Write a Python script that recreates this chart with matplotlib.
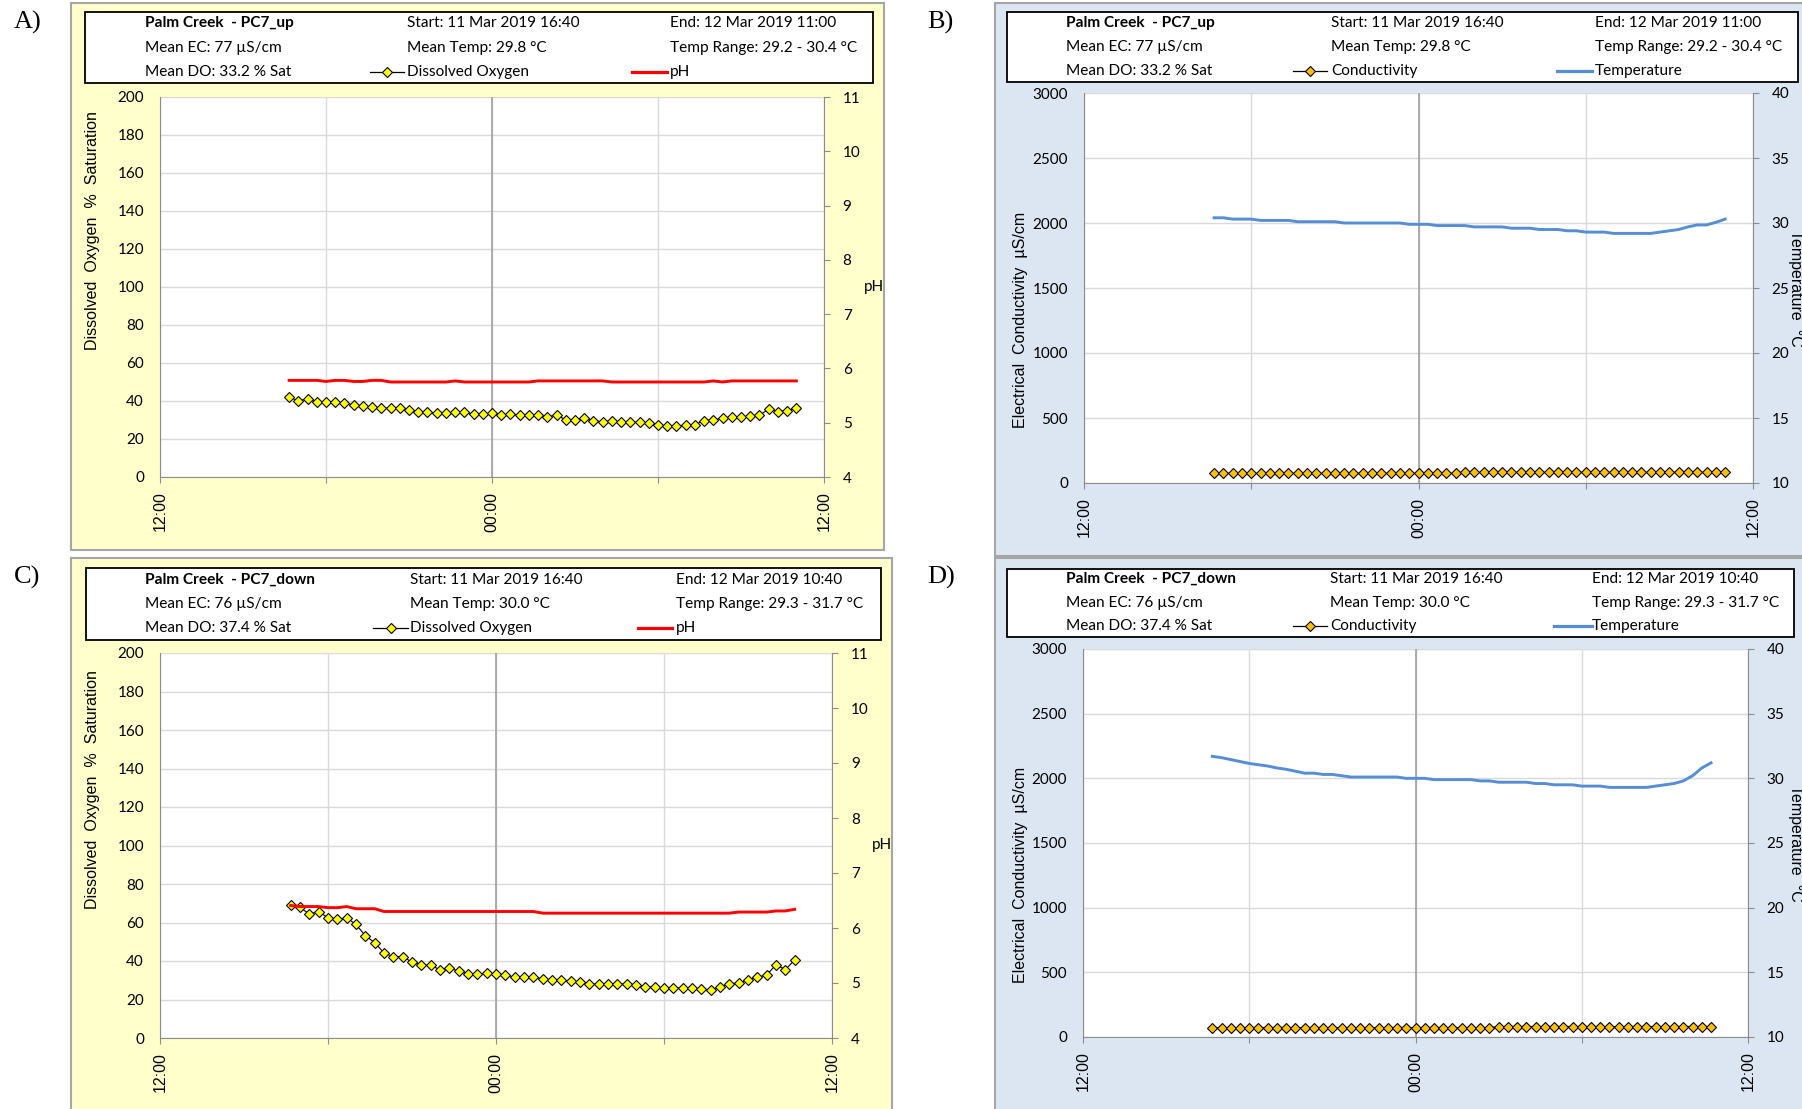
#!/usr/bin/python3
# -*- coding: utf-8 -*-
# Palm Creek PC7 : oxygène dissous / pH et conductivité / température

import matplotlib
matplotlib.use("Agg")
import matplotlib.pyplot as plt
import matplotlib.dates as mdates
from matplotlib.patches import Rectangle
from matplotlib.lines import Line2D
from matplotlib.ticker import FuncFormatter
import pandas as pd

plt.rcParams['font.family'] = ['Lato', 'DejaVu Sans']

W, H = 1802, 1109

# Données (pas de 20 min)
t_up = pd.date_range("2019-03-11 16:40", periods=56, freq="20min")
t_down = pd.date_range("2019-03-11 16:40", periods=55, freq="20min")

do_up = [42, 40.2, 41, 39.5, 39.5, 39.5, 38.8, 38, 37.4, 36.7,
         36.2, 36.2, 36.2, 35.3, 34, 34, 33.6, 33.6, 34, 34.3,
         33, 33, 33.7, 32.5, 33, 32.5, 32.5, 32.5, 31.8, 32.5,
         30.2, 30.2, 30.8, 29.7, 29, 29.7, 29, 28.8, 28.8, 28.3,
         27.6, 26.6, 26.6, 27.4, 27.6, 29.7, 30.2, 30.8, 31.5, 31.5,
         32, 32.5, 35.7, 34.4, 35, 36.2]
ph_up = [5.78, 5.78, 5.78, 5.78, 5.76, 5.78, 5.78, 5.76, 5.76, 5.78,
         5.78, 5.75, 5.75, 5.75, 5.75, 5.75, 5.75, 5.75, 5.77, 5.75,
         5.75, 5.75, 5.75, 5.75, 5.75, 5.75, 5.75, 5.77, 5.77, 5.77,
         5.77, 5.77, 5.77, 5.77, 5.77, 5.75, 5.75, 5.75, 5.75, 5.75,
         5.75, 5.75, 5.75, 5.75, 5.75, 5.75, 5.77, 5.75, 5.77, 5.77,
         5.77, 5.77, 5.77, 5.77, 5.77, 5.77]
ec_up = [74, 74, 74, 74, 74, 74, 74, 74, 74, 74,
         74, 74, 74, 74, 74, 74, 74, 74, 74, 74,
         74, 74, 74, 74, 74, 74, 74, 81, 81, 81,
         81, 81, 81, 81, 81, 81, 81, 81, 81, 81,
         81, 81, 81, 81, 81, 81, 81, 81, 81, 81,
         81, 81, 81, 81, 81, 81]
temp_up = [30.4, 30.4, 30.3, 30.3, 30.3, 30.2, 30.2, 30.2, 30.2, 30.1,
           30.1, 30.1, 30.1, 30.1, 30.0, 30.0, 30.0, 30.0, 30.0, 30.0,
           30.0, 29.9, 29.9, 29.9, 29.8, 29.8, 29.8, 29.8, 29.7, 29.7,
           29.7, 29.7, 29.6, 29.6, 29.6, 29.5, 29.5, 29.5, 29.4, 29.4,
           29.3, 29.3, 29.3, 29.2, 29.2, 29.2, 29.2, 29.2, 29.3, 29.4,
           29.5, 29.7, 29.85, 29.85, 30.05, 30.3]

do_down = [69.3, 67.8, 64.4, 65.7, 62.4, 61.7, 62.4, 59, 53.1, 49.6,
           44.2, 42.3, 42.3, 39.4, 38.1, 37.7, 35.5, 36.4, 34.7, 33.4,
           33.4, 33.6, 33.4, 32.7, 31.6, 31.6, 31.6, 30.8, 30.1, 30.1,
           29.5, 29.3, 28, 28, 28, 28, 28, 27.3, 26.6, 26.6,
           26, 26, 26, 26, 25.4, 25.1, 26.7, 28, 28.8, 30.1,
           31.6, 32.7, 38.1, 35.5, 40.5]
ph_down = [6.41, 6.39, 6.39, 6.39, 6.37, 6.37, 6.39, 6.35, 6.35, 6.35,
           6.30, 6.30, 6.30, 6.30, 6.30, 6.30, 6.30, 6.30, 6.30, 6.30,
           6.30, 6.30, 6.30, 6.30, 6.30, 6.30, 6.30, 6.27, 6.27, 6.27,
           6.27, 6.27, 6.27, 6.27, 6.27, 6.27, 6.27, 6.27, 6.27, 6.27,
           6.27, 6.27, 6.27, 6.27, 6.27, 6.27, 6.27, 6.27, 6.29, 6.29,
           6.29, 6.29, 6.31, 6.31, 6.34]
ec_down = [72, 72, 72, 72, 72, 72, 72, 72, 72, 72,
           72, 72, 72, 72, 72, 72, 72, 72, 72, 72,
           72, 72, 72, 72, 72, 72, 72, 72, 72, 72,
           72, 81, 81, 81, 81, 81, 81, 81, 81, 81,
           81, 81, 81, 81, 81, 81, 81, 81, 81, 81,
           81, 81, 81, 81, 81]
temp_down = [31.7, 31.6, 31.45, 31.3, 31.15, 31.05, 30.95, 30.8, 30.7, 30.55,
             30.4, 30.4, 30.3, 30.3, 30.2, 30.1, 30.1, 30.1, 30.1, 30.1,
             30.1, 30.0, 30.0, 30.0, 29.9, 29.9, 29.9, 29.9, 29.9, 29.8,
             29.8, 29.7, 29.7, 29.7, 29.7, 29.6, 29.6, 29.5, 29.5, 29.5,
             29.4, 29.4, 29.4, 29.3, 29.3, 29.3, 29.3, 29.3, 29.4, 29.5,
             29.6, 29.8, 30.2, 30.8, 31.2]

entete_up = ["Palm Creek  - PC7_up", "Start: 11 Mar 2019 16:40", "End: 12 Mar 2019 11:00",
             "Mean EC: 77 µS/cm", "Mean Temp: 29.8 °C", "Temp Range: 29.2 - 30.4 °C",
             "Mean DO: 33.2 % Sat"]
entete_down = ["Palm Creek  - PC7_down", "Start: 11 Mar 2019 16:40", "End: 12 Mar 2019 10:40",
               "Mean EC: 76 µS/cm", "Mean Temp: 30.0 °C", "Temp Range: 29.3 - 31.7 °C",
               "Mean DO: 37.4 % Sat"]

x_min = pd.Timestamp("2019-03-11 12:00")
x_max = pd.Timestamp("2019-03-12 12:00")
minuit = pd.Timestamp("2019-03-12 00:00")

JAUNE = "#FFFFCC"
BLEU = "#DCE6F2"
GRIS = "#8C8C8C"
TAILLE_ENTETE = 11.1
TAILLE_TICK = 11


def fx(x):
    return x / W


def fy(y):
    return 1 - y / H


def cadre(fig, box, face, edge, lw, z):
    x0, y0, x1, y1 = box
    fig.add_artist(Rectangle((fx(x0), fy(y1)), (x1 - x0) / W, (y1 - y0) / H,
                             transform=fig.transFigure, facecolor=face,
                             edgecolor=edge, linewidth=lw, zorder=z))


def heure(v, pos):
    d = mdates.num2date(v)
    if d.hour in (0, 12):
        return d.strftime("%H:%M")
    return ""


def entete(fig, box, cols, rows, textes, legendes, leg_x, styles):
    cadre(fig, box, "white", "black", 1.3, -1)
    for i, txt in enumerate(textes[:6]):
        fig.text(fx(cols[i % 3]), fy(rows[i // 3]), txt, fontsize=TAILLE_ENTETE,
                 va="center", ha="left",
                 fontweight="bold" if i == 0 else "normal")
    fig.text(fx(cols[0]), fy(rows[2]), textes[6], fontsize=TAILLE_ENTETE, va="center")
    for k in range(2):
        fig.text(fx(cols[k + 1]), fy(rows[2]), legendes[k], fontsize=TAILLE_ENTETE,
                 va="center")
        a, b = leg_x[k]
        ligne = Line2D([fx(a), fx((a + b) / 2), fx(b)], [fy(rows[2])] * 3,
                       transform=fig.transFigure, markevery=[1], **styles[k])
        fig.add_artist(ligne)


def trace(fig, box, t, y_g, y_d, kind):
    x0, y0, x1, y1 = box
    ax = fig.add_axes([fx(x0), fy(y1), (x1 - x0) / W, (y1 - y0) / H])
    ax2 = ax.twinx()
    if kind == "do":
        ax.plot(t, y_g, color="black", lw=0.8, marker="D", ms=5.6,
                mfc="#FFFF00", mec="black", mew=0.8, zorder=3)
        ax2.plot(t, y_d, color="#FF0000", lw=2.1)
        ax.set_ylim(0, 200)
        ax.set_yticks(range(0, 201, 20))
        ax2.set_ylim(4, 11)
        ax2.set_yticks(range(4, 12))
    else:
        ax.plot(t, y_g, color="black", lw=0.8, marker="D", ms=5.6,
                mfc="#FFC000", mec="black", mew=0.8, zorder=3)
        ax2.plot(t, y_d, color="#558ED5", lw=2.1)
        ax.set_ylim(0, 3000)
        ax.set_yticks(range(0, 3001, 500))
        ax2.set_ylim(10, 40)
        ax2.set_yticks(range(10, 41, 5))
    ax.set_xlim(x_min, x_max)
    ax.xaxis.set_major_locator(mdates.HourLocator(byhour=[0, 6, 12, 18]))
    ax.xaxis.set_major_formatter(FuncFormatter(heure))
    ax.set_axisbelow(True)
    ax.grid(True, color="#D9D9D9", lw=1)
    ax.axvline(minuit, color="#A0A0A0", lw=1.2, zorder=0.8)
    for s in ("top", "right"):
        ax.spines[s].set_visible(False)
    for s in ("top", "left", "bottom"):
        ax2.spines[s].set_visible(False)
    ax.spines["left"].set_color(GRIS)
    ax.spines["bottom"].set_color(GRIS)
    ax2.spines["right"].set_color(GRIS)
    ax.tick_params(axis="y", length=0, pad=11.5, labelsize=TAILLE_TICK)
    ax2.tick_params(axis="y", length=4, color=GRIS, pad=9.5, labelsize=TAILLE_TICK)
    ax.tick_params(axis="x", length=4, color=GRIS, pad=6.5, labelsize=11.5,
                   labelrotation=90, labelfontfamily="Liberation Sans")
    return ax, ax2


fig = plt.figure(figsize=(W / 100, H / 100), dpi=100)

style_do = [dict(color="black", lw=0.9, marker="D", ms=5.6, mfc="#FFFF00", mec="black", mew=0.8),
            dict(color="#FF0000", lw=2.3)]
style_ec = [dict(color="black", lw=0.9, marker="D", ms=5.6, mfc="#FFC000", mec="black", mew=0.8),
            dict(color="#558ED5", lw=2.3)]

panneaux = [
    # lettre, fond, couleur, entete, plot, colonnes, lignes, legende x, lettre y
    ("A)", (71, 3, 884, 550), JAUNE, (85, 12, 873, 83), (160, 97, 824, 477),
     (145, 407, 670), (23, 48, 72), ((370, 404), (632, 667)), 22),
    ("B)", (995, 3, 1810, 556), BLEU, (1007, 12, 1798, 82), (1084, 93, 1753, 483),
     (1066, 1331, 1595), (23, 47, 71), ((1293, 1327), (1557, 1592)), 22),
    ("C)", (71, 558, 892, 1115), JAUNE, (86, 568, 881, 640), (160, 653, 832, 1038),
     (145, 410, 676), (580, 604, 628), ((373, 408), (638, 672)), 577),
    ("D)", (995, 558, 1810, 1115), BLEU, (1007, 569, 1794, 637), (1083, 649, 1748, 1037),
     (1066, 1330, 1592), (579, 603, 626), ((1293, 1327), (1554, 1592)), 577),
]

series = [
    (t_up, do_up, ph_up, "do", entete_up),
    (t_up, ec_up, temp_up, "ec", entete_up),
    (t_down, do_down, ph_down, "do", entete_down),
    (t_down, ec_down, temp_down, "ec", entete_down),
]

for (lettre, fond, coul, hbox, pbox, cols, rows, legx, ly), (t, yg, yd, kind, txt) in zip(panneaux, series):
    x_l = 14 if lettre in ("A)", "C)") else 927
    fig.text(fx(x_l), fy(ly), lettre, family="Liberation Serif", fontsize=19, va="center")
    cadre(fig, fond, coul, "#A6A6A6", 1.5, -2)
    if kind == "do":
        entete(fig, hbox, cols, rows, txt, ["Dissolved Oxygen", "pH"], legx, style_do)
    else:
        entete(fig, hbox, cols, rows, txt, ["Conductivity", "Temperature"], legx, style_ec)
    trace(fig, pbox, t, yg, yd, kind)
    xc = (pbox[1] + pbox[3]) / 2
    if kind == "do":
        fig.text(fx(93), fy(xc - 56), "Dissolved  Oxygen  %  Saturation",
                 family="Liberation Sans", fontsize=11.5, rotation=90,
                 ha="center", va="center")
        fig.text(fx(pbox[2] + 50), fy(xc), "pH", fontsize=TAILLE_TICK, ha="center", va="center")
    else:
        fig.text(fx(1020), fy(xc + 32), "Electrical  Conductivity  µS/cm",
                 family="Liberation Sans", fontsize=11.5, rotation=90,
                 ha="center", va="center")
        fig.text(fx(1796), fy(xc), "Temperature  °C",
                 family="Liberation Sans", fontsize=11.5, rotation=270,
                 ha="center", va="center")

fig.savefig("out.png", dpi=100)
